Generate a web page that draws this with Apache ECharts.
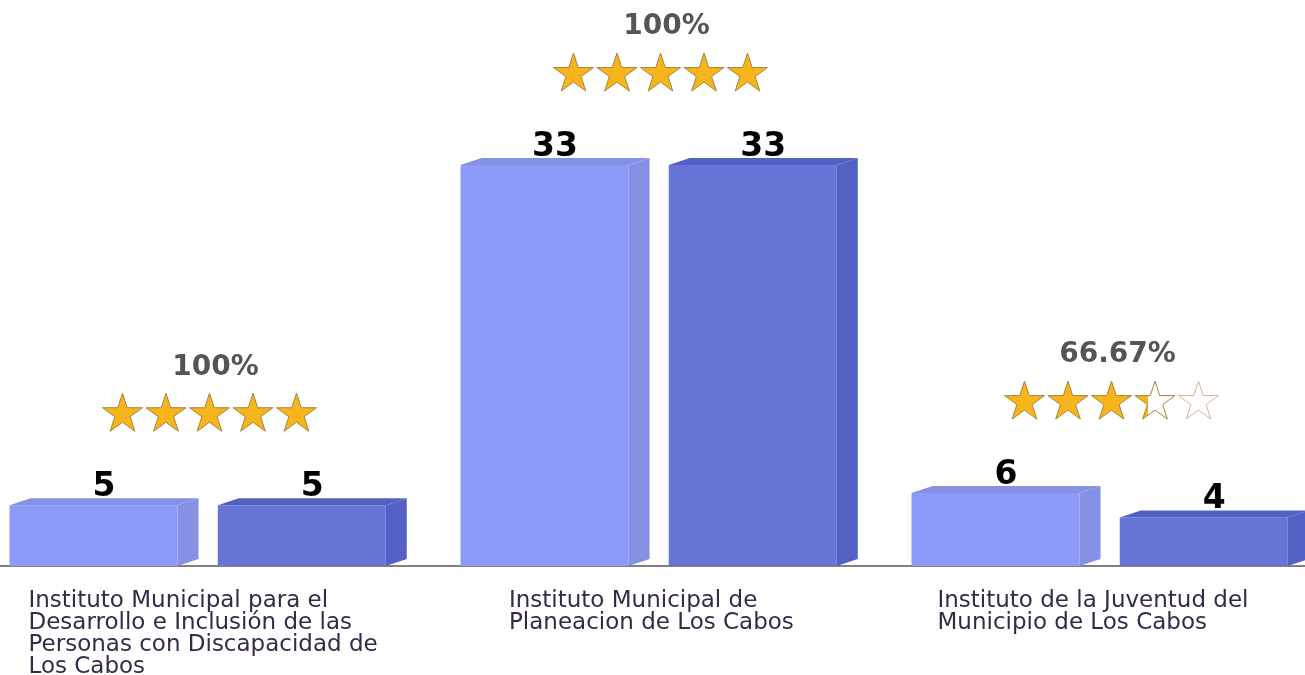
<!DOCTYPE html>
<html>
<head>
<meta charset="utf-8">
<script src="https://cdn.jsdelivr.net/npm/echarts@6/dist/echarts.min.js"></script>
<style>
	html, body { margin: 0; padding: 0; background: #fff; overflow: hidden; }
	/* the plot area runs a little past both edges of the window */
	#chart { width: 1353px; height: 675px; margin-left: -28px; }
</style>
</head>
<body>
<div id="chart"></div>
<script>
var categories = [
	'Instituto Municipal para el\nDesarrollo e Inclusión de las\nPersonas con Discapacidad de\nLos Cabos',
	'Instituto Municipal de\nPlaneacion de Los Cabos',
	'Instituto de la Juventud del\nMunicipio de Los Cabos'
];
var seriesA = [5, 33, 6];
var seriesB = [5, 33, 4];
var percents = [100, 100, 66.67];

var labelFont = 'DejaVu Sans';

function bar3d(offset, front, top, side) {
	return function (params, api) {
		var idx = api.value(0);
		var val = api.value(1);
		var c = api.coord([idx, val]);
		var b = api.coord([idx, 0]);
		var band = api.size([1, 0])[0];
		var w = band * 0.3725;
		var dx = band * 0.0466;
		var dy = 7;
		var x0 = c[0] + offset * band;
		var y0 = c[1];
		return {
			type: 'group',
			children: [{
				type: 'rect',
				shape: { x: x0, y: y0, width: w, height: b[1] - y0 },
				style: { fill: front }
			}, {
				type: 'polygon',
				shape: { points: [[x0, y0], [x0 + dx, y0 - dy], [x0 + w + dx, y0 - dy], [x0 + w, y0]] },
				style: { fill: top }
			}, {
				type: 'polygon',
				shape: { points: [[x0 + w, y0], [x0 + w + dx, y0 - dy], [x0 + w + dx, b[1] - dy], [x0 + w, b[1]]] },
				style: { fill: side }
			}, {
				type: 'text',
				style: {
					text: String(val),
					x: x0 + (w + dx) / 2,
					y: y0 - dy + 6,
					align: 'center',
					verticalAlign: 'bottom',
					fill: '#000',
					fontSize: 33,
					fontWeight: 'bold',
					fontFamily: labelFont
				}
			}]
		};
	};
}

function starPoints(cx, cy, R) {
	var pts = [];
	var r = R * 0.382;
	for (var i = 0; i < 10; i++) {
		var a = -Math.PI / 2 + i * Math.PI / 5;
		var rr = i % 2 === 0 ? R : r;
		pts.push([cx + rr * Math.cos(a), cy + rr * Math.sin(a)]);
	}
	return pts;
}

function ratingItem(params, api) {
	var idx = api.value(0);
	var maxv = api.value(1);
	var pct = api.value(2);
	var c = api.coord([idx, maxv]);
	var cx = c[0] + 12;
	var topY = c[1] - 7;
	var children = [{
		type: 'text',
		style: {
			text: (Math.round(pct * 100) / 100) + '%',
			x: cx + 6,
			y: topY - 131,
			align: 'center',
			verticalAlign: 'middle',
			fill: '#555555',
			fontSize: 28,
			fontWeight: 'bold',
			fontFamily: labelFont
		}
	}];
	var stars = pct / 20;
	var R = 21;
	var step = 43.5;
	for (var i = 0; i < 5; i++) {
		var f = Math.max(0, Math.min(1, stars - i));
		var fill;
		if (f >= 1) fill = '#F7B51C';
		else if (f <= 0) fill = '#ffffff';
		else fill = new echarts.graphic.LinearGradient(0, 0, 1, 0, [
			{ offset: 0, color: '#F7B51C' },
			{ offset: f, color: '#F7B51C' },
			{ offset: f, color: '#ffffff' },
			{ offset: 1, color: '#ffffff' }
		]);
		children.push({
			type: 'polygon',
			shape: { points: starPoints(cx + (i - 2) * step, topY - 84, R) },
			style: { fill: fill, stroke: f > 0 ? '#A8823A' : '#CDB990', lineWidth: 1 }
		});
	}
	return { type: 'group', children: children };
}

var labelWidths = [338, 279, 324];
var rich = {};
for (var i = 0; i < labelWidths.length; i++) {
	rich['w' + i] = {
		width: labelWidths[i],
		align: 'left',
		fontSize: 23,
		lineHeight: 22,
		color: '#2E2E48',
		fontFamily: labelFont
	};
}

var chart = echarts.init(document.getElementById('chart'));
var option = {
	animation: false,
	grid: { left: 0, right: 0, top: 80, bottom: 109, containLabel: false, outerBoundsMode: 'none' },
	xAxis: {
		type: 'category',
		data: categories,
		axisTick: { show: false },
		axisLine: { lineStyle: { color: '#808080', width: 2 } },
		axisLabel: {
			interval: 0,
			margin: 24,
			lineHeight: 22,
			fontSize: 23,
			formatter: function (value, index) {
				return value.split('\n').map(function (l) {
					return '{w' + index + '|' + l + '}';
				}).join('\n');
			},
			rich: rich
		}
	},
	yAxis: {
		type: 'value',
		min: 0,
		max: 40,
		show: false,
		splitLine: { show: false }
	},
	series: [{
		type: 'custom',
		renderItem: bar3d(-0.4168, '#8C9BFA', '#8591E4', '#8591E4'),
		data: seriesA.map(function (v, i) { return [i, v]; })
	}, {
		type: 'custom',
		renderItem: bar3d(0.0449, '#6675D6', '#5461C4', '#5461C4'),
		data: seriesB.map(function (v, i) { return [i, v]; })
	}, {
		type: 'custom',
		renderItem: ratingItem,
		data: percents.map(function (p, i) { return [i, Math.max(seriesA[i], seriesB[i]), p]; })
	}]
};
chart.setOption(option);
</script>
</body>
</html>
